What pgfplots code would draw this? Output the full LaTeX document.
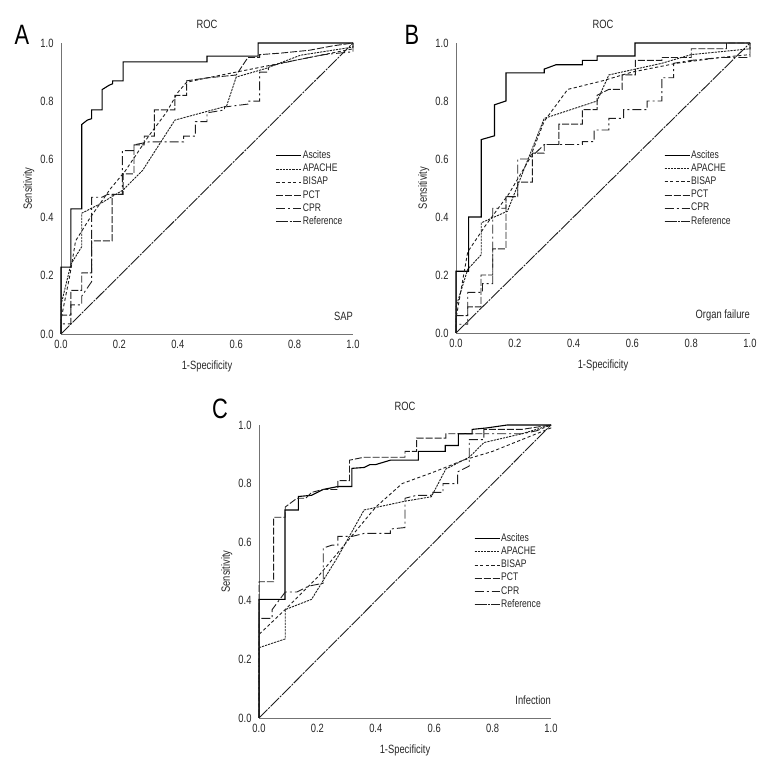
\documentclass[border=0pt]{standalone}
\usepackage{pgfplots}
\pgfplotsset{compat=1.18}
\usepackage{fontspec}
\setmainfont{Liberation Sans}[FakeStretch=0.78]
\definecolor{ink}{HTML}{1E1E1E}
\pgfplotsset{
  rocaxis/.style={
    scale only axis, xmin=0, xmax=1, ymin=0, ymax=1, clip=false,
    axis x line*=bottom, axis y line*=left,
    axis line style={-, black!55, line width=0.8pt},
    xtick={0,0.2,0.4,0.6,0.8,1}, ytick={0,0.2,0.4,0.6,0.8,1},
    major tick length=0pt,
    tick label style={font=\fontsize{12}{13}\selectfont, text=black!85},
    xticklabel style={yshift=-2.5pt},
    yticklabel style={xshift=-4pt},
    /pgf/number format/fixed, /pgf/number format/fixed zerofill,
    /pgf/number format/precision=1, /pgf/number format/assume math mode=true,
    xlabel={1-Specificity}, ylabel={Sensitivity},
    label style={font=\fontsize{12}{13}\selectfont, text=black!85},
    xlabel style={at={(axis description cs:0.5,0)}, anchor=north, yshift=-23pt},
    title={ROC},
    title style={font=\fontsize{12}{13}\selectfont, text=black!85, at={(axis description cs:0.5,1)}, anchor=south, yshift=5pt},
    legend cell align=left,
    legend style={draw=none, fill=none, font=\fontsize{11}{12}\selectfont, text=black!85,
      row sep=2pt, inner sep=0pt,
      nodes={inner sep=1pt, text height=0.72em, text depth=0.2em}},
    legend image code/.code={\path (0pt,0pt) -- (25pt,0pt); \draw[#1] (0pt,0pt) -- (21pt,0pt);},
    every axis plot/.append style={ink, line width=0.9pt},
  },
  ascites/.style={black, line width=1.1pt, solid},
  apache/.style={dash pattern=on 2.2pt off 1pt},
  bisap/.style={dash pattern=on 3.2pt off 2.4pt},
  pct/.style={dash pattern=on 7pt off 2pt},
  cpr/.style={dash pattern=on 9pt off 3pt on 2pt off 3pt},
  refl/.style={dash pattern=on 12pt off 1.2pt on 2pt off 1.2pt},
}
\begin{document}
\begin{tikzpicture}
\path[use as bounding box] (0,0) rectangle (780pt,780pt);
% ---------------- A ----------------
\begin{axis}[rocaxis, at={(61pt,446pt)}, anchor=south west, width=292pt, height=291pt,
  ylabel style={at={(axis description cs:-0.079,0.5)}, anchor=south, rotate=0},
  legend style={at={(0.735,0.632)}, anchor=north west}]
\addplot[ascites] coordinates {(0,0)(0,0.23)(0.034,0.23)(0.034,0.43)(0.071,0.43)(0.071,0.72)(0.09,0.735)(0.105,0.74)(0.105,0.77)(0.141,0.77)(0.141,0.84)(0.165,0.855)(0.177,0.86)(0.177,0.87)(0.213,0.87)(0.213,0.935)(0.5,0.935)(0.5,0.955)(0.675,0.955)(0.675,1)(1,1)};
\addlegendentry{Ascites}
\addplot[apache] coordinates {(0,0)(0,0.1)(0.034,0.24)(0.071,0.30)(0.071,0.415)(0.133,0.447)(0.213,0.495)(0.28,0.563)(0.39,0.735)(0.567,0.783)(0.6,0.883)(0.7,0.912)(0.82,0.958)(1,0.986)(1,1)};
\addlegendentry{APACHE}
\addplot[bisap] coordinates {(0,0)(0,0.05)(0.03,0.2)(0.05,0.32)(0.1,0.4)(0.17,0.5)(0.22,0.56)(0.3,0.68)(0.36,0.76)(0.4,0.83)(0.43,0.865)(0.5,0.88)(0.6,0.9)(0.7,0.92)(0.8,0.94)(0.9,0.96)(1,0.98)(1,1)};
\addlegendentry{BISAP}
\addplot[pct] coordinates {(0,0)(0,0.065)(0.034,0.065)(0.034,0.15)(0.071,0.15)(0.071,0.21)(0.105,0.21)(0.105,0.32)(0.175,0.32)(0.175,0.48)(0.213,0.48)(0.213,0.55)(0.25,0.55)(0.25,0.65)(0.285,0.65)(0.285,0.68)(0.32,0.68)(0.32,0.77)(0.39,0.77)(0.39,0.82)(0.43,0.82)(0.43,0.87)(0.5,0.88)(0.6,0.89)(0.64,0.95)(0.68,0.95)(0.68,0.96)(0.75,0.965)(0.85,0.975)(0.93,0.99)(1,1)};
\addlegendentry{PCT}
\addplot[cpr] coordinates {(0,0)(0,0.035)(0.034,0.035)(0.034,0.1)(0.071,0.1)(0.071,0.13)(0.105,0.18)(0.105,0.47)(0.14,0.47)(0.16,0.48)(0.21,0.48)(0.21,0.63)(0.25,0.63)(0.25,0.65)(0.3,0.66)(0.42,0.66)(0.42,0.68)(0.46,0.68)(0.46,0.73)(0.5,0.73)(0.5,0.76)(0.56,0.77)(0.56,0.78)(0.64,0.79)(0.64,0.8)(0.68,0.8)(0.68,0.9)(0.71,0.9)(0.71,0.92)(0.8,0.94)(0.9,0.96)(1,0.97)(1,1)};
\addlegendentry{CPR}
\addplot[refl] coordinates {(0,0)(1,1)};
\addlegendentry{Reference}
\node[anchor=east, font=\fontsize{12}{13}\selectfont, text=black!85, inner sep=0pt] at (rel axis cs:1,0.062) {SAP};
\end{axis}
% ---------------- B ----------------
\begin{axis}[rocaxis, at={(456pt,447pt)}, anchor=south west, width=294pt, height=290pt,
  ylabel style={at={(axis description cs:-0.079,0.5)}, anchor=south, rotate=0},
  legend style={at={(0.707,0.632)}, anchor=north west}]
\addplot[ascites] coordinates {(0,0)(0,0.213)(0.043,0.213)(0.043,0.4)(0.086,0.4)(0.086,0.667)(0.131,0.68)(0.131,0.787)(0.17,0.8)(0.17,0.897)(0.3,0.897)(0.3,0.91)(0.34,0.925)(0.43,0.925)(0.43,0.94)(0.48,0.94)(0.48,0.955)(0.609,0.955)(0.609,1)(1,1)};
\addlegendentry{Ascites}
\addplot[apache] coordinates {(0,0)(0,0.09)(0.04,0.22)(0.086,0.27)(0.086,0.38)(0.175,0.42)(0.3,0.74)(0.48,0.8)(0.52,0.89)(0.7,0.93)(0.8,0.96)(1,0.98)(1,1)};
\addlegendentry{APACHE}
\addplot[bisap] coordinates {(0,0)(0,0.05)(0.04,0.28)(0.1,0.37)(0.18,0.48)(0.25,0.6)(0.3,0.73)(0.38,0.84)(0.5,0.87)(0.6,0.9)(0.75,0.93)(0.9,0.95)(1,0.96)(1,1)};
\addlegendentry{BISAP}
\addplot[pct] coordinates {(0,0)(0,0.06)(0.04,0.06)(0.04,0.09)(0.085,0.09)(0.085,0.2)(0.125,0.2)(0.125,0.29)(0.17,0.29)(0.17,0.47)(0.21,0.47)(0.21,0.52)(0.26,0.52)(0.26,0.62)(0.3,0.62)(0.3,0.65)(0.35,0.65)(0.35,0.72)(0.43,0.72)(0.43,0.77)(0.48,0.77)(0.48,0.82)(0.5,0.83)(0.52,0.84)(0.565,0.84)(0.565,0.89)(0.61,0.89)(0.61,0.94)(0.7,0.94)(0.7,0.95)(0.8,0.95)(0.8,0.98)(0.92,0.98)(0.92,1)(1,1)};
\addlegendentry{PCT}
\addplot[cpr] coordinates {(0,0)(0,0.03)(0.04,0.03)(0.04,0.14)(0.09,0.14)(0.09,0.17)(0.125,0.17)(0.125,0.43)(0.17,0.43)(0.17,0.47)(0.21,0.47)(0.21,0.6)(0.25,0.6)(0.27,0.62)(0.3,0.65)(0.43,0.65)(0.43,0.66)(0.47,0.66)(0.47,0.7)(0.52,0.7)(0.52,0.74)(0.57,0.74)(0.57,0.77)(0.65,0.77)(0.65,0.8)(0.7,0.8)(0.7,0.88)(0.74,0.88)(0.74,0.93)(0.8,0.94)(0.9,0.95)(1,0.95)(1,1)};
\addlegendentry{CPR}
\addplot[refl] coordinates {(0,0)(1,1)};
\addlegendentry{Reference}
\node[anchor=east, font=\fontsize{12}{13}\selectfont, text=black!85, inner sep=0pt] at (rel axis cs:1,0.062) {Organ failure};
\end{axis}
% ---------------- C ----------------
\begin{axis}[rocaxis, at={(259pt,62pt)}, anchor=south west, width=292pt, height=293pt,
  ylabel style={at={(axis description cs:-0.079,0.5)}, anchor=south, rotate=0},
  legend style={at={(0.736,0.632)}, anchor=north west}]
\addplot[ascites] coordinates {(0,0)(0,0.405)(0.089,0.405)(0.089,0.71)(0.135,0.71)(0.135,0.756)(0.18,0.76)(0.22,0.78)(0.27,0.79)(0.318,0.79)(0.318,0.852)(0.36,0.855)(0.38,0.865)(0.4,0.865)(0.45,0.88)(0.546,0.88)(0.546,0.91)(0.638,0.91)(0.638,0.93)(0.683,0.93)(0.683,0.97)(0.73,0.97)(0.73,0.985)(0.78,0.99)(0.85,1)(1,1)};
\addlegendentry{Ascites}
\addplot[apache] coordinates {(0,0)(0,0.24)(0.09,0.27)(0.09,0.37)(0.18,0.405)(0.27,0.55)(0.36,0.71)(0.5,0.74)(0.59,0.755)(0.64,0.85)(0.72,0.89)(0.77,0.94)(0.9,0.97)(1,1)};
\addlegendentry{APACHE}
\addplot[bisap] coordinates {(0,0)(0,0.285)(0.1,0.38)(0.2,0.48)(0.3,0.6)(0.4,0.72)(0.49,0.8)(0.6,0.84)(0.7,0.88)(0.8,0.91)(0.9,0.95)(1,0.99)(1,1)};
\addlegendentry{BISAP}
\addplot[pct] coordinates {(0,0)(0,0.465)(0.05,0.465)(0.05,0.685)(0.09,0.685)(0.09,0.72)(0.13,0.75)(0.16,0.75)(0.18,0.77)(0.22,0.78)(0.27,0.78)(0.27,0.81)(0.31,0.81)(0.31,0.88)(0.36,0.89)(0.5,0.89)(0.5,0.91)(0.54,0.91)(0.54,0.955)(0.64,0.955)(0.64,0.97)(0.77,0.97)(0.77,0.985)(0.9,0.985)(1,1)};
\addlegendentry{PCT}
\addplot[cpr] coordinates {(0,0)(0,0.34)(0.045,0.34)(0.045,0.37)(0.09,0.43)(0.13,0.43)(0.17,0.45)(0.22,0.46)(0.22,0.58)(0.25,0.59)(0.27,0.59)(0.27,0.62)(0.32,0.62)(0.36,0.63)(0.45,0.63)(0.45,0.645)(0.5,0.65)(0.5,0.75)(0.54,0.76)(0.59,0.76)(0.59,0.77)(0.63,0.77)(0.63,0.8)(0.68,0.8)(0.68,0.84)(0.72,0.86)(0.72,0.95)(0.77,0.95)(0.77,0.97)(0.9,0.97)(0.95,0.98)(1,1)};
\addlegendentry{CPR}
\addplot[refl] coordinates {(0,0)(1,1)};
\addlegendentry{Reference}
\node[anchor=east, font=\fontsize{12}{13}\selectfont, text=black!85, inner sep=0pt] at (rel axis cs:1,0.061) {Infection};
\end{axis}
% panel letters
\node[font=\fontsize{28}{30}\selectfont, inner sep=0pt] at (22pt,745pt) {A};
\node[font=\fontsize{28}{30}\selectfont, inner sep=0pt] at (412pt,745pt) {B};
\node[font=\fontsize{28}{30}\selectfont, inner sep=0pt] at (220pt,371pt) {C};
\end{tikzpicture}
\end{document}
